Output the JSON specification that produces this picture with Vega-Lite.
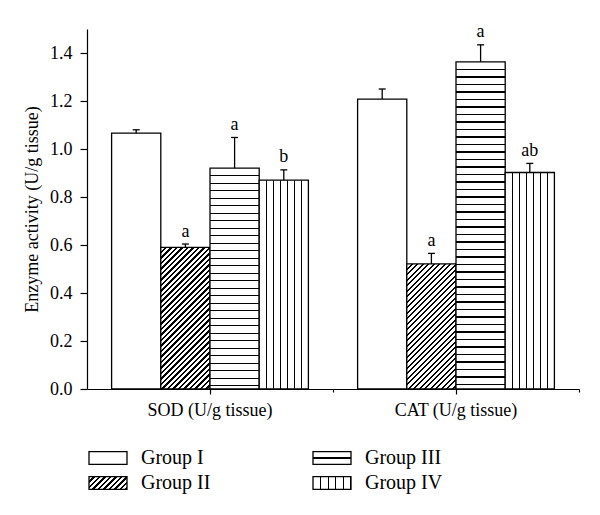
{
"$schema": "https://vega.github.io/schema/vega-lite/v6.json",
"width": 492, "height": 360,
"autosize": {"type": "none"},
"padding": {"left": 87, "top": 29, "right": 21, "bottom": 126},
"background": "white",
"config": {"view": {"stroke": null}, "font": "Liberation Serif"},
"params": [
{"name": "ds", "value": [
{"offset":0.0155,"color":"#fff"},{"offset":0.0155,"color":"#000"},{"offset":0.0245,"color":"#000"},{"offset":0.0245,"color":"#fff"},
{"offset":0.0355,"color":"#fff"},{"offset":0.0355,"color":"#000"},{"offset":0.0445,"color":"#000"},{"offset":0.0445,"color":"#fff"},
{"offset":0.0555,"color":"#fff"},{"offset":0.0555,"color":"#000"},{"offset":0.0645,"color":"#000"},{"offset":0.0645,"color":"#fff"},
{"offset":0.0755,"color":"#fff"},{"offset":0.0755,"color":"#000"},{"offset":0.0845,"color":"#000"},{"offset":0.0845,"color":"#fff"},
{"offset":0.0955,"color":"#fff"},{"offset":0.0955,"color":"#000"},{"offset":0.1045,"color":"#000"},{"offset":0.1045,"color":"#fff"},
{"offset":0.1155,"color":"#fff"},{"offset":0.1155,"color":"#000"},{"offset":0.1245,"color":"#000"},{"offset":0.1245,"color":"#fff"},
{"offset":0.1355,"color":"#fff"},{"offset":0.1355,"color":"#000"},{"offset":0.1445,"color":"#000"},{"offset":0.1445,"color":"#fff"},
{"offset":0.1555,"color":"#fff"},{"offset":0.1555,"color":"#000"},{"offset":0.1645,"color":"#000"},{"offset":0.1645,"color":"#fff"},
{"offset":0.1755,"color":"#fff"},{"offset":0.1755,"color":"#000"},{"offset":0.1845,"color":"#000"},{"offset":0.1845,"color":"#fff"},
{"offset":0.1955,"color":"#fff"},{"offset":0.1955,"color":"#000"},{"offset":0.2045,"color":"#000"},{"offset":0.2045,"color":"#fff"},
{"offset":0.2155,"color":"#fff"},{"offset":0.2155,"color":"#000"},{"offset":0.2245,"color":"#000"},{"offset":0.2245,"color":"#fff"},
{"offset":0.2355,"color":"#fff"},{"offset":0.2355,"color":"#000"},{"offset":0.2445,"color":"#000"},{"offset":0.2445,"color":"#fff"},
{"offset":0.2555,"color":"#fff"},{"offset":0.2555,"color":"#000"},{"offset":0.2645,"color":"#000"},{"offset":0.2645,"color":"#fff"},
{"offset":0.2755,"color":"#fff"},{"offset":0.2755,"color":"#000"},{"offset":0.2845,"color":"#000"},{"offset":0.2845,"color":"#fff"},
{"offset":0.2955,"color":"#fff"},{"offset":0.2955,"color":"#000"},{"offset":0.3045,"color":"#000"},{"offset":0.3045,"color":"#fff"},
{"offset":0.3155,"color":"#fff"},{"offset":0.3155,"color":"#000"},{"offset":0.3245,"color":"#000"},{"offset":0.3245,"color":"#fff"},
{"offset":0.3355,"color":"#fff"},{"offset":0.3355,"color":"#000"},{"offset":0.3445,"color":"#000"},{"offset":0.3445,"color":"#fff"},
{"offset":0.3555,"color":"#fff"},{"offset":0.3555,"color":"#000"},{"offset":0.3645,"color":"#000"},{"offset":0.3645,"color":"#fff"},
{"offset":0.3755,"color":"#fff"},{"offset":0.3755,"color":"#000"},{"offset":0.3845,"color":"#000"},{"offset":0.3845,"color":"#fff"},
{"offset":0.3955,"color":"#fff"},{"offset":0.3955,"color":"#000"},{"offset":0.4045,"color":"#000"},{"offset":0.4045,"color":"#fff"},
{"offset":0.4155,"color":"#fff"},{"offset":0.4155,"color":"#000"},{"offset":0.4245,"color":"#000"},{"offset":0.4245,"color":"#fff"},
{"offset":0.4355,"color":"#fff"},{"offset":0.4355,"color":"#000"},{"offset":0.4445,"color":"#000"},{"offset":0.4445,"color":"#fff"},
{"offset":0.4555,"color":"#fff"},{"offset":0.4555,"color":"#000"},{"offset":0.4645,"color":"#000"},{"offset":0.4645,"color":"#fff"},
{"offset":0.4755,"color":"#fff"},{"offset":0.4755,"color":"#000"},{"offset":0.4845,"color":"#000"},{"offset":0.4845,"color":"#fff"},
{"offset":0.4955,"color":"#fff"},{"offset":0.4955,"color":"#000"},{"offset":0.5045,"color":"#000"},{"offset":0.5045,"color":"#fff"},
{"offset":0.5155,"color":"#fff"},{"offset":0.5155,"color":"#000"},{"offset":0.5245,"color":"#000"},{"offset":0.5245,"color":"#fff"},
{"offset":0.5355,"color":"#fff"},{"offset":0.5355,"color":"#000"},{"offset":0.5445,"color":"#000"},{"offset":0.5445,"color":"#fff"},
{"offset":0.5555,"color":"#fff"},{"offset":0.5555,"color":"#000"},{"offset":0.5645,"color":"#000"},{"offset":0.5645,"color":"#fff"},
{"offset":0.5755,"color":"#fff"},{"offset":0.5755,"color":"#000"},{"offset":0.5845,"color":"#000"},{"offset":0.5845,"color":"#fff"},
{"offset":0.5955,"color":"#fff"},{"offset":0.5955,"color":"#000"},{"offset":0.6045,"color":"#000"},{"offset":0.6045,"color":"#fff"},
{"offset":0.6155,"color":"#fff"},{"offset":0.6155,"color":"#000"},{"offset":0.6245,"color":"#000"},{"offset":0.6245,"color":"#fff"},
{"offset":0.6355,"color":"#fff"},{"offset":0.6355,"color":"#000"},{"offset":0.6445,"color":"#000"},{"offset":0.6445,"color":"#fff"},
{"offset":0.6555,"color":"#fff"},{"offset":0.6555,"color":"#000"},{"offset":0.6645,"color":"#000"},{"offset":0.6645,"color":"#fff"},
{"offset":0.6755,"color":"#fff"},{"offset":0.6755,"color":"#000"},{"offset":0.6845,"color":"#000"},{"offset":0.6845,"color":"#fff"},
{"offset":0.6955,"color":"#fff"},{"offset":0.6955,"color":"#000"},{"offset":0.7045,"color":"#000"},{"offset":0.7045,"color":"#fff"}
]},
{"name": "hs", "value": [
{"offset":0.0182,"color":"#fff"},{"offset":0.0182,"color":"#000"},{"offset":0.0218,"color":"#000"},{"offset":0.0218,"color":"#fff"},
{"offset":0.0382,"color":"#fff"},{"offset":0.0382,"color":"#000"},{"offset":0.0418,"color":"#000"},{"offset":0.0418,"color":"#fff"},
{"offset":0.0582,"color":"#fff"},{"offset":0.0582,"color":"#000"},{"offset":0.0618,"color":"#000"},{"offset":0.0618,"color":"#fff"},
{"offset":0.0782,"color":"#fff"},{"offset":0.0782,"color":"#000"},{"offset":0.0818,"color":"#000"},{"offset":0.0818,"color":"#fff"},
{"offset":0.0982,"color":"#fff"},{"offset":0.0982,"color":"#000"},{"offset":0.1018,"color":"#000"},{"offset":0.1018,"color":"#fff"},
{"offset":0.1182,"color":"#fff"},{"offset":0.1182,"color":"#000"},{"offset":0.1218,"color":"#000"},{"offset":0.1218,"color":"#fff"},
{"offset":0.1382,"color":"#fff"},{"offset":0.1382,"color":"#000"},{"offset":0.1418,"color":"#000"},{"offset":0.1418,"color":"#fff"},
{"offset":0.1582,"color":"#fff"},{"offset":0.1582,"color":"#000"},{"offset":0.1618,"color":"#000"},{"offset":0.1618,"color":"#fff"},
{"offset":0.1782,"color":"#fff"},{"offset":0.1782,"color":"#000"},{"offset":0.1818,"color":"#000"},{"offset":0.1818,"color":"#fff"},
{"offset":0.1982,"color":"#fff"},{"offset":0.1982,"color":"#000"},{"offset":0.2018,"color":"#000"},{"offset":0.2018,"color":"#fff"},
{"offset":0.2182,"color":"#fff"},{"offset":0.2182,"color":"#000"},{"offset":0.2218,"color":"#000"},{"offset":0.2218,"color":"#fff"},
{"offset":0.2382,"color":"#fff"},{"offset":0.2382,"color":"#000"},{"offset":0.2418,"color":"#000"},{"offset":0.2418,"color":"#fff"},
{"offset":0.2582,"color":"#fff"},{"offset":0.2582,"color":"#000"},{"offset":0.2618,"color":"#000"},{"offset":0.2618,"color":"#fff"},
{"offset":0.2782,"color":"#fff"},{"offset":0.2782,"color":"#000"},{"offset":0.2818,"color":"#000"},{"offset":0.2818,"color":"#fff"},
{"offset":0.2982,"color":"#fff"},{"offset":0.2982,"color":"#000"},{"offset":0.3018,"color":"#000"},{"offset":0.3018,"color":"#fff"},
{"offset":0.3182,"color":"#fff"},{"offset":0.3182,"color":"#000"},{"offset":0.3218,"color":"#000"},{"offset":0.3218,"color":"#fff"},
{"offset":0.3382,"color":"#fff"},{"offset":0.3382,"color":"#000"},{"offset":0.3418,"color":"#000"},{"offset":0.3418,"color":"#fff"},
{"offset":0.3582,"color":"#fff"},{"offset":0.3582,"color":"#000"},{"offset":0.3618,"color":"#000"},{"offset":0.3618,"color":"#fff"},
{"offset":0.3782,"color":"#fff"},{"offset":0.3782,"color":"#000"},{"offset":0.3818,"color":"#000"},{"offset":0.3818,"color":"#fff"},
{"offset":0.3982,"color":"#fff"},{"offset":0.3982,"color":"#000"},{"offset":0.4018,"color":"#000"},{"offset":0.4018,"color":"#fff"},
{"offset":0.4182,"color":"#fff"},{"offset":0.4182,"color":"#000"},{"offset":0.4218,"color":"#000"},{"offset":0.4218,"color":"#fff"},
{"offset":0.4382,"color":"#fff"},{"offset":0.4382,"color":"#000"},{"offset":0.4418,"color":"#000"},{"offset":0.4418,"color":"#fff"},
{"offset":0.4582,"color":"#fff"},{"offset":0.4582,"color":"#000"},{"offset":0.4618,"color":"#000"},{"offset":0.4618,"color":"#fff"},
{"offset":0.4782,"color":"#fff"},{"offset":0.4782,"color":"#000"},{"offset":0.4818,"color":"#000"},{"offset":0.4818,"color":"#fff"},
{"offset":0.4982,"color":"#fff"},{"offset":0.4982,"color":"#000"},{"offset":0.5018,"color":"#000"},{"offset":0.5018,"color":"#fff"},
{"offset":0.5182,"color":"#fff"},{"offset":0.5182,"color":"#000"},{"offset":0.5218,"color":"#000"},{"offset":0.5218,"color":"#fff"},
{"offset":0.5382,"color":"#fff"},{"offset":0.5382,"color":"#000"},{"offset":0.5418,"color":"#000"},{"offset":0.5418,"color":"#fff"},
{"offset":0.5582,"color":"#fff"},{"offset":0.5582,"color":"#000"},{"offset":0.5618,"color":"#000"},{"offset":0.5618,"color":"#fff"},
{"offset":0.5782,"color":"#fff"},{"offset":0.5782,"color":"#000"},{"offset":0.5818,"color":"#000"},{"offset":0.5818,"color":"#fff"},
{"offset":0.5982,"color":"#fff"},{"offset":0.5982,"color":"#000"},{"offset":0.6018,"color":"#000"},{"offset":0.6018,"color":"#fff"},
{"offset":0.6182,"color":"#fff"},{"offset":0.6182,"color":"#000"},{"offset":0.6218,"color":"#000"},{"offset":0.6218,"color":"#fff"},
{"offset":0.6382,"color":"#fff"},{"offset":0.6382,"color":"#000"},{"offset":0.6418,"color":"#000"},{"offset":0.6418,"color":"#fff"},
{"offset":0.6582,"color":"#fff"},{"offset":0.6582,"color":"#000"},{"offset":0.6618,"color":"#000"},{"offset":0.6618,"color":"#fff"},
{"offset":0.6782,"color":"#fff"},{"offset":0.6782,"color":"#000"},{"offset":0.6818,"color":"#000"},{"offset":0.6818,"color":"#fff"},
{"offset":0.6982,"color":"#fff"},{"offset":0.6982,"color":"#000"},{"offset":0.7018,"color":"#000"},{"offset":0.7018,"color":"#fff"},
{"offset":0.7182,"color":"#fff"},{"offset":0.7182,"color":"#000"},{"offset":0.7218,"color":"#000"},{"offset":0.7218,"color":"#fff"},
{"offset":0.7382,"color":"#fff"},{"offset":0.7382,"color":"#000"},{"offset":0.7418,"color":"#000"},{"offset":0.7418,"color":"#fff"},
{"offset":0.7582,"color":"#fff"},{"offset":0.7582,"color":"#000"},{"offset":0.7618,"color":"#000"},{"offset":0.7618,"color":"#fff"},
{"offset":0.7782,"color":"#fff"},{"offset":0.7782,"color":"#000"},{"offset":0.7818,"color":"#000"},{"offset":0.7818,"color":"#fff"},
{"offset":0.7982,"color":"#fff"},{"offset":0.7982,"color":"#000"},{"offset":0.8018,"color":"#000"},{"offset":0.8018,"color":"#fff"},
{"offset":0.8182,"color":"#fff"},{"offset":0.8182,"color":"#000"},{"offset":0.8218,"color":"#000"},{"offset":0.8218,"color":"#fff"},
{"offset":0.8382,"color":"#fff"},{"offset":0.8382,"color":"#000"},{"offset":0.8418,"color":"#000"},{"offset":0.8418,"color":"#fff"},
{"offset":0.8582,"color":"#fff"},{"offset":0.8582,"color":"#000"},{"offset":0.8618,"color":"#000"},{"offset":0.8618,"color":"#fff"}
]},
{"name": "vs", "value": [
{"offset":0.1299,"color":"#fff"},{"offset":0.1299,"color":"#000"},{"offset":0.1559,"color":"#000"},{"offset":0.1559,"color":"#fff"},
{"offset":0.2727,"color":"#fff"},{"offset":0.2727,"color":"#000"},{"offset":0.2987,"color":"#000"},{"offset":0.2987,"color":"#fff"},
{"offset":0.4156,"color":"#fff"},{"offset":0.4156,"color":"#000"},{"offset":0.4416,"color":"#000"},{"offset":0.4416,"color":"#fff"},
{"offset":0.5584,"color":"#fff"},{"offset":0.5584,"color":"#000"},{"offset":0.5844,"color":"#000"},{"offset":0.5844,"color":"#fff"},
{"offset":0.7013,"color":"#fff"},{"offset":0.7013,"color":"#000"},{"offset":0.7273,"color":"#000"},{"offset":0.7273,"color":"#fff"},
{"offset":0.8441,"color":"#fff"},{"offset":0.8441,"color":"#000"},{"offset":0.8701,"color":"#000"},{"offset":0.8701,"color":"#fff"}
]}
],
"data": {"values": [
{"cat": "SOD (U/g tissue)", "group": "Group I", "mean": 1.066, "upper": 1.080, "sig": ""},
{"cat": "SOD (U/g tissue)", "group": "Group II", "mean": 0.590, "upper": 0.604, "sig": "a"},
{"cat": "SOD (U/g tissue)", "group": "Group III", "mean": 0.920, "upper": 1.048, "sig": "a"},
{"cat": "SOD (U/g tissue)", "group": "Group IV", "mean": 0.870, "upper": 0.913, "sig": "b"},
{"cat": "CAT (U/g tissue)", "group": "Group I", "mean": 1.208, "upper": 1.250, "sig": ""},
{"cat": "CAT (U/g tissue)", "group": "Group II", "mean": 0.521, "upper": 0.565, "sig": "a"},
{"cat": "CAT (U/g tissue)", "group": "Group III", "mean": 1.363, "upper": 1.434, "sig": "a"},
{"cat": "CAT (U/g tissue)", "group": "Group IV", "mean": 0.902, "upper": 0.940, "sig": "ab"}
]},
"encoding": {
  "xOffset": {"field": "group", "type": "nominal", "sort": ["Group I", "Group II", "Group III", "Group IV"]}
},
"resolve": {"axis": {"x": "independent"}},
"layer": [
  {"mark": {"type": "bar", "strokeWidth": 1.3,
            "fill": {"expr": "datum.group ? (datum.group==='Group II' ? {gradient:'linear',x1:0,y1:0,x2:13530/(2420.64+57600*datum.mean*datum.mean),y2:66000*datum.mean/(2420.64+57600*datum.mean*datum.mean),stops:ds} : datum.group==='Group III' ? {gradient:'linear',x1:0,y1:0,x2:0,y2:375/(240*datum.mean),stops:hs} : datum.group==='Group IV' ? {gradient:'linear',x1:0,y1:0,x2:1,y2:0,stops:vs} : '#fff') : (datum.value==='Group III' ? {gradient:'linear',x1:0,y1:0,x2:6.52,y2:2.162,stops:ds} : datum.value==='Group II' ? {gradient:'linear',x1:0,y1:0,x2:0,y2:25,stops:hs} : datum.value==='Group IV' ? {gradient:'linear',x1:0,y1:0,x2:1.4,y2:0,stops:vs} : '#fff')"}},
   "encoding": {
     "x": {"field": "cat", "type": "nominal", "sort": ["SOD (U/g tissue)", "CAT (U/g tissue)"],
           "scale": {"paddingInner": 0.2, "paddingOuter": 0.1},
           "axis": {"orient": "bottom", "title": null, "labelAngle": 0, "labelFont": "Liberation Serif", "labelFontSize": 18, "labelColor": "#000",
                    "tickSize": 5, "tickColor": "#000", "tickWidth": 1.2, "domainColor": "#000", "domainWidth": 1.2,
                    "labelPadding": 7, "grid": false}},
     "y": {"field": "mean", "type": "quantitative", "title": "Enzyme activity (U/g tissue)",
           "scale": {"domain": [0, 1.5], "nice": false},
           "axis": {"values": [0, 0.1, 0.2, 0.3, 0.4, 0.5, 0.6, 0.7, 0.8, 0.9, 1.0, 1.1, 1.2, 1.3, 1.4, 1.5],
                    "labelExpr": "(round(datum.value*10)%2==0 && datum.value<1.45) ? format(datum.value,'.1f') : ''",
                    "grid": false, "tickSize": 7, "tickColor": "#000", "tickWidth": 1.2, "domainColor": "#000", "domainWidth": 1.2,
                    "labelFont": "Liberation Serif", "labelFontSize": 18, "labelColor": "#000", "labelPadding": 8,
                    "titleFont": "Liberation Serif", "titleFontSize": 18, "titleFontWeight": "normal", "titleColor": "#000", "titlePadding": 8,
                    "encode": {"ticks": {"x2": {"value": {"expr": "(round(datum.value*10)%2==0 || datum.value>1.45) ? -7 : -4"}}}}}},
     "stroke": {"field": "group", "type": "nominal",
                "scale": {"domain": ["Group I", "Group III", "Group II", "Group IV"], "range": ["#000", "#000", "#000", "#000"]},
                "legend": {"orient": "none", "legendX": 10, "legendY": 418, "title": null, "columns": 2, "columnPadding": 99, "rowPadding": 4,
                           "padding": 0, "symbolType": "M-1.9,-0.63H1.9V0.63H-1.9Z", "symbolSize": 400, "symbolStrokeWidth": 1.3,
                           "labelFont": "Liberation Serif", "labelFontSize": 20, "labelColor": "#000", "labelOffset": 22,
                           "labelExpr": "datum.label==='Group II' ? 'Group III' : datum.label==='Group III' ? 'Group II' : datum.label"}}
   }},
  {"mark": {"type": "rule", "color": "#000", "strokeWidth": 1.3},
   "encoding": {"x": {"field": "cat", "type": "nominal", "sort": ["SOD (U/g tissue)", "CAT (U/g tissue)"], "axis": null},
                "y": {"field": "mean", "type": "quantitative", "title": "Enzyme activity (U/g tissue)"}, "y2": {"field": "upper"}}},
  {"mark": {"type": "point", "shape": "stroke", "size": 49, "filled": false, "color": "#000", "strokeWidth": 1.3, "opacity": 1},
   "encoding": {"x": {"field": "cat", "type": "nominal", "sort": ["SOD (U/g tissue)", "CAT (U/g tissue)"], "axis": null},
                "y": {"field": "upper", "type": "quantitative", "title": "Enzyme activity (U/g tissue)"}}},
  {"mark": {"type": "text", "dy": -7.5, "baseline": "alphabetic", "fontSize": 18, "font": "Liberation Serif", "color": "#000"},
   "encoding": {"x": {"field": "cat", "type": "nominal", "sort": ["SOD (U/g tissue)", "CAT (U/g tissue)"],
                      "axis": {"orient": "bottom", "title": null, "labels": false, "domain": false, "grid": false,
                               "tickSize": 3, "tickColor": "#000", "tickWidth": 1.2, "bandPosition": 1, "tickOffset": 24.6}},
                "y": {"field": "upper", "type": "quantitative", "title": "Enzyme activity (U/g tissue)"}, "text": {"field": "sig"}}}
]
}
